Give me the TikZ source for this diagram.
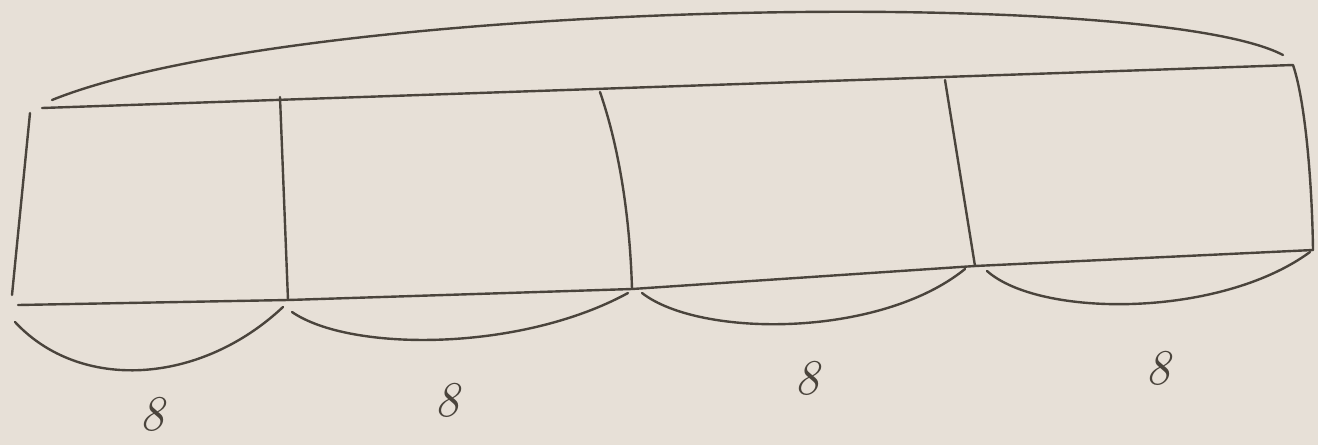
\documentclass[tikz,border=0pt]{standalone}
\usepackage{fontspec}
\definecolor{paper}{HTML}{E7E0D7}
\definecolor{pencil}{HTML}{4A443C}
\begin{document}
\begin{tikzpicture}[x=1pt,y=-1pt,
  ink/.style={draw=pencil,line width=2.4pt,line cap=round,line join=round},
  lbl/.style={text=pencil,font=\fontsize{50}{50}\selectfont\itshape,inner sep=0pt}]
\fill[paper] (0,0) rectangle (1318,445);
\useasboundingbox (0,0) rectangle (1318,445);
% corners
\coordinate (tl) at (42,108);
\coordinate (tr) at (1293,65);
\coordinate (bl) at (18,305);
\coordinate (br) at (1313,250);
\coordinate (lt) at (30,113);
\coordinate (lb) at (12,295);
\coordinate (d1t) at (280,97);
\coordinate (d1b) at (288,300);
\coordinate (d2t) at (600,92);
\coordinate (d2b) at (632,289);
\coordinate (d3t) at (945,80);
\coordinate (d3b) at (975,266);
% tape
\draw[ink] (tl) -- (tr) .. controls (1305,100) and (1312,180) .. (br);
\draw[ink] (bl) -- (d1b) -- (d2b) -- (d3b) -- (br);
\draw[ink] (lt) -- (lb);
\draw[ink] (d1t) -- (d1b);
\draw[ink] (d2t) .. controls (620,150) and (630,220) .. (d2b);
\draw[ink] (d3t) -- (d3b);
% top arc
\coordinate (ta) at (52,100);
\coordinate (tb) at (1283,55);
\draw[ink] (ta) .. controls (300,0) and (1150,-15) .. (tb);
% bottom arcs
\coordinate (a1) at (15,322); \coordinate (b1) at (283,307);
\coordinate (a2) at (292,312); \coordinate (b2) at (628,293);
\coordinate (a3) at (642,293); \coordinate (b3) at (965,269);
\coordinate (a4) at (987,271); \coordinate (b4) at (1310,252);
\draw[ink] (a1) .. controls (80,392) and (200,385) .. (b1);
\draw[ink] (a2) .. controls (350,352) and (520,352) .. (b2);
\draw[ink] (a3) .. controls (700,338) and (880,338) .. (b3);
\draw[ink] (a4) .. controls (1040,318) and (1220,318) .. (b4);
% labels
\node[lbl] (l1) at (152,414) {8};
\node[lbl] (l2) at (447,400) {8};
\node[lbl] (l3) at (807,378) {8};
\node[lbl] (l4) at (1158,368) {8};
\end{tikzpicture}
\end{document}
